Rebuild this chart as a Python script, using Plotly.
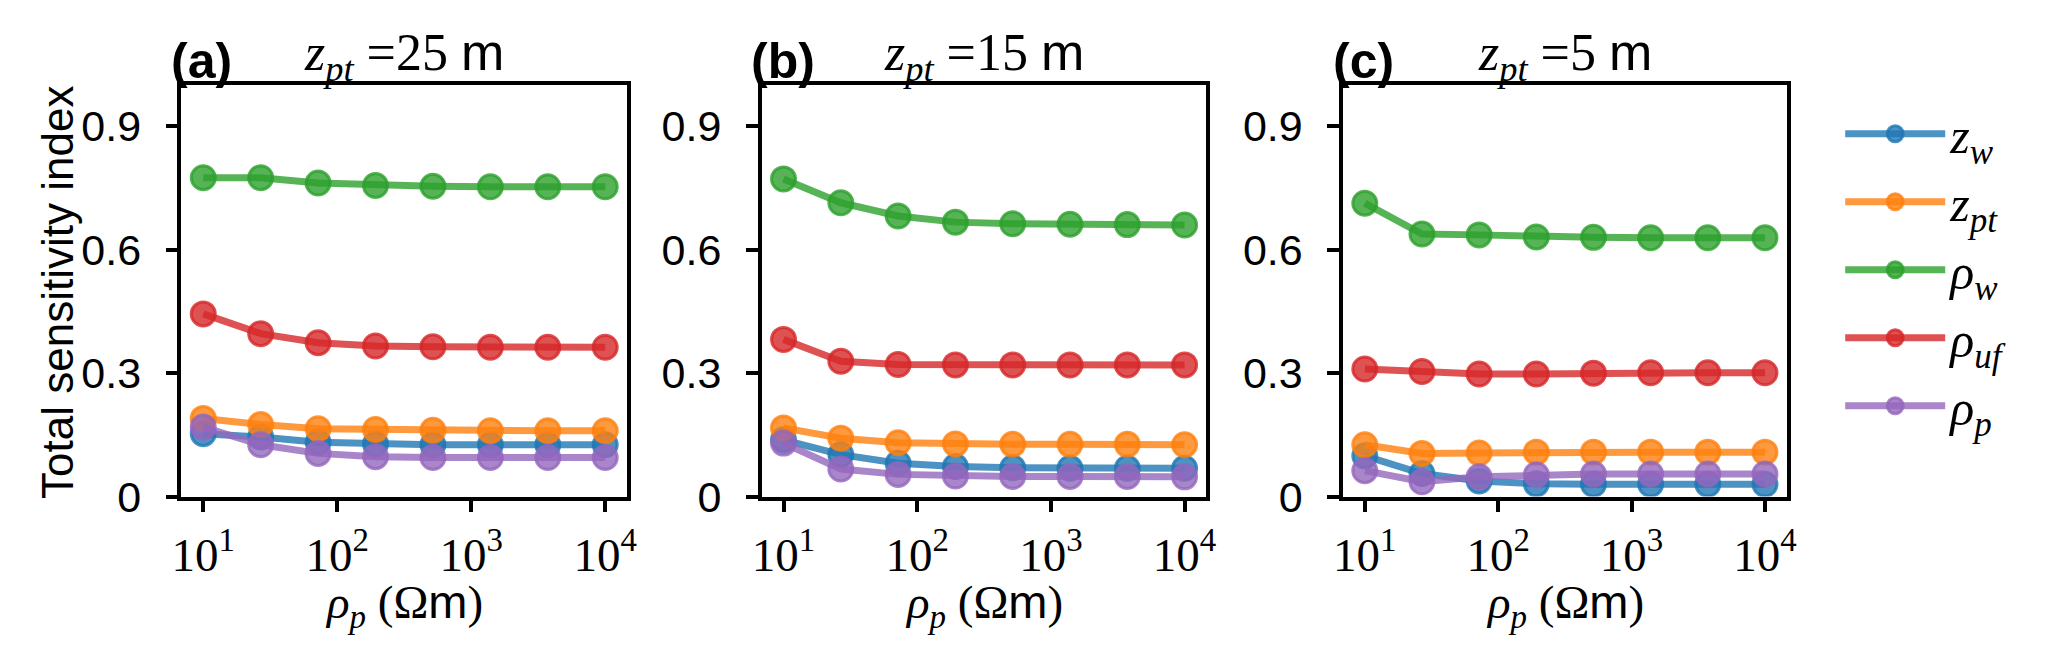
import plotly.graph_objects as go

# resistividad del terreno (logspace 10 .. 1e4, 8 puntos)
rho_p = [10, 26.83, 71.97, 193.07, 517.95, 1389.50, 3727.59, 10000]

# (a) z_pt = 25 m
zw_25 = [0.153, 0.145, 0.132, 0.128, 0.126, 0.126, 0.126, 0.126]
zpt_25 = [0.190, 0.175, 0.165, 0.163, 0.161, 0.160, 0.160, 0.160]
rw_25 = [0.775, 0.775, 0.762, 0.756, 0.754, 0.753, 0.753, 0.753]
ruf_25 = [0.444, 0.396, 0.374, 0.366, 0.364, 0.363, 0.363, 0.363]
rp_25 = [0.169, 0.126, 0.105, 0.097, 0.095, 0.095, 0.095, 0.095]

# (b) z_pt = 15 m
zw_15 = [0.138, 0.102, 0.081, 0.073, 0.070, 0.069, 0.069, 0.069]
zpt_15 = [0.167, 0.142, 0.131, 0.128, 0.127, 0.127, 0.127, 0.126]
rw_15 = [0.772, 0.714, 0.682, 0.667, 0.663, 0.662, 0.661, 0.660]
ruf_15 = [0.382, 0.329, 0.321, 0.320, 0.320, 0.320, 0.320, 0.320]
rp_15 = [0.130, 0.067, 0.054, 0.050, 0.049, 0.049, 0.049, 0.048]

# (c) z_pt = 5 m
zw_5 = [0.099, 0.056, 0.038, 0.031, 0.030, 0.030, 0.030, 0.030]
zpt_5 = [0.126, 0.105, 0.106, 0.108, 0.108, 0.108, 0.108, 0.108]
rw_5 = [0.713, 0.638, 0.636, 0.631, 0.630, 0.629, 0.629, 0.629]
ruf_5 = [0.310, 0.304, 0.298, 0.298, 0.300, 0.301, 0.301, 0.301]
rp_5 = [0.063, 0.036, 0.048, 0.053, 0.055, 0.055, 0.055, 0.055]

panel_labels = ["(a)", "(b)", "(c)"]
panel_depths = ["25", "15", "5"]
series_labels = [
    "<i>z</i><sub><i>w</i></sub>",
    "<i>z</i><sub><i>pt</i></sub>",
    "<i>ρ</i><sub><i>w</i></sub>",
    "<i>ρ</i><sub><i>uf</i></sub>",
    "<i>ρ</i><sub><i>p</i></sub>",
]
y_ticks = [0, 0.3, 0.6, 0.9]
y_ticktext = ["0", "0.3", "0.6", "0.9"]
x_ticks = [10, 100, 1000, 10000]
x_ticktext = ["10<sup>1</sup>", "10<sup>2</sup>", "10<sup>3</sup>", "10<sup>4</sup>"]

colors = ["31,119,180", "255,127,14", "44,160,44", "214,39,40", "148,103,189"]

W, H = 2067, 661
SANS = "Liberation Sans"
SERIF = "Liberation Serif"

panels = [
    [zw_25, zpt_25, rw_25, ruf_25, rp_25],
    [zw_15, zpt_15, rw_15, ruf_15, rp_15],
    [zw_5, zpt_5, rw_5, ruf_5, rp_5],
]

# bordes de cada eje en pixeles
x_px = [(165, 615), (751, 1200), (1338, 1786)]
y_top, y_bot = 80, 507

fig = go.Figure()

for i, data in enumerate(panels):
    ax = "" if i == 0 else str(i + 1)
    for j, ys in enumerate(data):
        c = f"rgba({colors[j]},0.8)"
        fig.add_trace(go.Scatter(
            x=rho_p, y=ys,
            xaxis="x" + ax, yaxis="y" + ax,
            mode="lines+markers",
            line=dict(color=c, width=7),
            marker=dict(size=24, color=c, line=dict(color=c, width=3)),
            name=series_labels[j],
            legendgroup=str(j),
            showlegend=(i == 0),
        ))

    x0, x1 = x_px[i]
    fig.layout["xaxis" + ax] = dict(
        domain=[x0 / W, x1 / W], anchor="y" + ax,
        type="log", range=[0.837, 4.163],
        tickvals=x_ticks, ticktext=x_ticktext,
        tickfont=dict(family=SERIF, size=47, color="black"),
        ticks="outside", ticklen=12, tickwidth=3.5, tickcolor="black",
        ticklabelstandoff=2,
        showline=True, linewidth=3.5, linecolor="black", mirror=True,
        showgrid=False, zeroline=False,
    )
    fig.layout["yaxis" + ax] = dict(
        domain=[1 - y_bot / H, 1 - y_top / H], anchor="x" + ax,
        range=[0, 1.0],
        tickvals=y_ticks, ticktext=y_ticktext,
        tickfont=dict(family=SANS, size=43, color="black"),
        ticks="outside", ticklen=12, tickwidth=3.5, tickcolor="black",
        ticklabelstandoff=16,
        showline=True, linewidth=3.5, linecolor="black", mirror=True,
        showgrid=False, zeroline=False,
    )

    xc = (x0 + x1) / 2 / W
    # etiqueta del panel
    fig.add_annotation(
        text=f"<b>{panel_labels[i]}</b>", x=x0 / W - 0.006, y=1 - 55 / H,
        xref="paper", yref="paper", xanchor="left", yanchor="middle",
        showarrow=False, font=dict(family=SANS, size=50, color="black"),
    )
    # titulo
    fig.add_annotation(
        text=(f"<i>z</i><sub><i>pt</i></sub> ={panel_depths[i]} "
              f"<span style='font-family:{SANS}'>m</span>"),
        x=xc, y=1 - 50 / H,
        xref="paper", yref="paper", xanchor="center", yanchor="middle",
        showarrow=False, font=dict(family=SERIF, size=52, color="black"),
    )
    # titulo eje x
    fig.add_annotation(
        text=f"<i>ρ</i><sub><i>p</i></sub> (Ω<span style='font-family:{SANS}'>m</span>)",
        x=xc, y=1 - 620 / H,
        xref="paper", yref="paper", xanchor="center", yanchor="middle",
        showarrow=False, font=dict(family=SERIF, size=47, color="black"),
    )

fig.add_annotation(
    text="Total sensitivity index", x=40 / W, y=1 - 295 / H,
    xref="paper", yref="paper", xanchor="center", yanchor="middle",
    textangle=-90, showarrow=False,
    font=dict(family=SANS, size=44, color="black"),
)

fig.update_layout(
    width=W, height=H,
    margin=dict(l=0, r=0, t=0, b=0),
    plot_bgcolor="white", paper_bgcolor="white",
    legend=dict(
        x=1840 / W, y=1 - 90 / H, xanchor="left", yanchor="top",
        font=dict(family=SERIF, size=50, color="black"),
        itemwidth=100, tracegroupgap=0,
        bgcolor="rgba(0,0,0,0)",
    ),
)

fig.write_html("out.html")
